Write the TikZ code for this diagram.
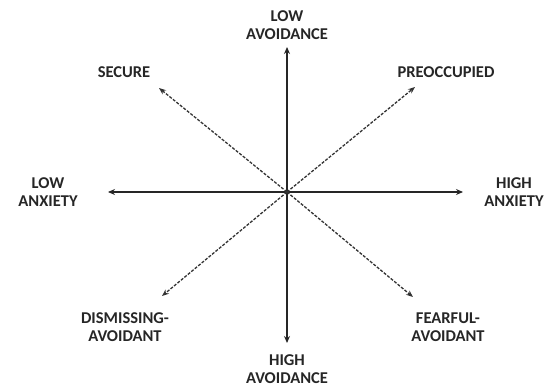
\documentclass[tikz,border=0pt]{standalone}
\usepackage{fontspec}
\setmainfont{Carlito}
\usetikzlibrary{arrows.meta}
\begin{document}
\begin{tikzpicture}[x=1pt,y=-1pt,
  lbl/.style={font=\bfseries\fontsize{16.5}{18}\selectfont, align=center, text=black!85, inner sep=0pt},
  axis/.style={line width=1.6pt, black!85, {Stealth[length=7pt,width=6pt]}-{Stealth[length=7pt,width=6pt]}},
  diag/.style={line width=1.3pt, black!80, dash pattern=on 3pt off 1.5pt, -{Stealth[length=7pt,width=5.5pt]}}]
\useasboundingbox (0,0) rectangle (548,387);
\coordinate (c) at (287,192);
\coordinate (t) at (287,47);
\coordinate (b) at (287,343);
\coordinate (l) at (108,192);
\coordinate (r) at (463,192);
\coordinate (tl) at (159,88);
\coordinate (tr) at (415,87);
\coordinate (bl) at (162,296);
\coordinate (br) at (413,297);
\draw[axis] (t) -- (b);
\draw[axis] (l) -- (r);
\draw[diag] (c) -- (tl);
\draw[diag] (c) -- (tr);
\draw[diag] (c) -- (bl);
\draw[diag] (c) -- (br);
\node[lbl] (lowav) at (287,25.5) {LOW\\AVOIDANCE};
\node[lbl] (secure) at (124,72) {SECURE};
\node[lbl] (preocc) at (446,72) {PREOCCUPIED};
\node[lbl] (lowanx) at (48,192.5) {LOW\\ANXIETY};
\node[lbl] (highanx) at (514,192.5) {HIGH\\ANXIETY};
\node[lbl] (dism) at (125,327.5) {DISMISSING-\\AVOIDANT};
\node[lbl] (fear) at (448,327.5) {FEARFUL-\\AVOIDANT};
\node[lbl] (highav) at (287,369) {HIGH\\AVOIDANCE};
\end{tikzpicture}
\end{document}
